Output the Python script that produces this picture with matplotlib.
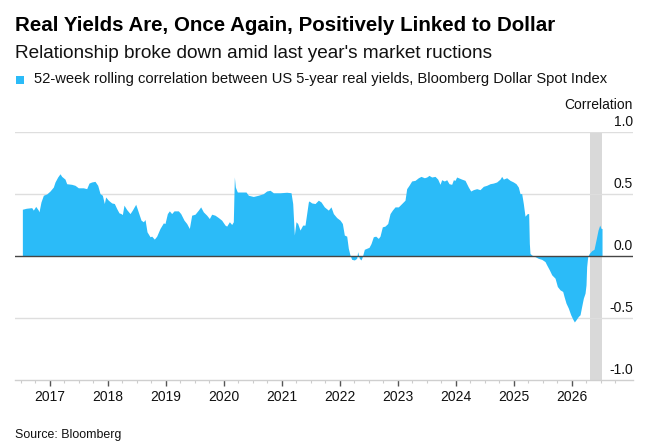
import matplotlib
matplotlib.use('Agg')
import matplotlib.pyplot as plt
from matplotlib.patches import Rectangle
from matplotlib.ticker import FixedLocator
import matplotlib.transforms as mtransforms

# ---------------- data ----------------
years = [
    2016.532, 2016.600, 2016.693, 2016.721, 2016.762, 2016.807, 2016.819, 2016.853, 2016.894, 2016.951,
    2017.009, 2017.066, 2017.095, 2017.141, 2017.181, 2017.210, 2017.267, 2017.296, 2017.382, 2017.440,
    2017.497, 2017.583, 2017.641, 2017.681, 2017.727, 2017.784, 2017.831, 2017.871, 2017.911, 2017.945,
    2017.968, 2018.014, 2018.072, 2018.118, 2018.158, 2018.198, 2018.233, 2018.256, 2018.284, 2018.330,
    2018.388, 2018.428, 2018.486, 2018.520, 2018.578, 2018.618, 2018.647, 2018.681, 2018.733, 2018.762,
    2018.807, 2018.848, 2018.905, 2018.963, 2018.991, 2019.032, 2019.066, 2019.106, 2019.147, 2019.221,
    2019.262, 2019.319, 2019.365, 2019.411, 2019.451, 2019.509, 2019.566, 2019.606, 2019.652, 2019.710,
    2019.756, 2019.796, 2019.853, 2019.911, 2019.968, 2020.026, 2020.055, 2020.101, 2020.141, 2020.169,
    2020.187, 2020.204, 2020.238, 2020.313, 2020.388, 2020.428, 2020.514, 2020.601, 2020.687, 2020.744,
    2020.802, 2020.859, 2020.974, 2021.089, 2021.164, 2021.193, 2021.221, 2021.250, 2021.279, 2021.319,
    2021.365, 2021.405, 2021.434, 2021.463, 2021.474, 2021.520, 2021.578, 2021.635, 2021.681, 2021.738,
    2021.807, 2021.853, 2021.894, 2021.951, 2022.009, 2022.049, 2022.083, 2022.124, 2022.152, 2022.181,
    2022.210, 2022.256, 2022.296, 2022.313, 2022.342, 2022.371, 2022.394, 2022.428, 2022.468, 2022.509,
    2022.543, 2022.583, 2022.624, 2022.669, 2022.698, 2022.738, 2022.784, 2022.831, 2022.871, 2022.911,
    2022.957, 2023.014, 2023.072, 2023.129, 2023.158, 2023.198, 2023.244, 2023.302, 2023.359, 2023.405,
    2023.463, 2023.503, 2023.543, 2023.589, 2023.647, 2023.693, 2023.733, 2023.761, 2023.807, 2023.848,
    2023.888, 2023.934, 2023.963, 2023.991, 2024.020, 2024.106, 2024.164, 2024.221, 2024.262, 2024.307,
    2024.365, 2024.422, 2024.480, 2024.537, 2024.595, 2024.652, 2024.710, 2024.767, 2024.796, 2024.825,
    2024.882, 2024.940, 2024.997, 2025.043, 2025.083, 2025.112, 2025.141, 2025.169, 2025.198, 2025.238,
    2025.261, 2025.273, 2025.284, 2025.313, 2025.371, 2025.428, 2025.486, 2025.543, 2025.572, 2025.618,
    2025.659, 2025.716, 2025.756, 2025.802, 2025.848, 2025.871, 2025.905, 2025.945, 2025.986, 2026.020,
    2026.049, 2026.078, 2026.118, 2026.147, 2026.175, 2026.204, 2026.233, 2026.250, 2026.261, 2026.279,
    2026.307, 2026.348, 2026.388, 2026.428, 2026.457, 2026.486, 2026.509, 2026.526,
]
corr = [
    0.377, 0.385, 0.390, 0.370, 0.400, 0.370, 0.356, 0.436, 0.490, 0.500,
    0.524, 0.556, 0.597, 0.637, 0.663, 0.642, 0.620, 0.583, 0.578, 0.570,
    0.550, 0.550, 0.543, 0.588, 0.597, 0.602, 0.570, 0.503, 0.490, 0.423,
    0.476, 0.450, 0.428, 0.423, 0.383, 0.348, 0.342, 0.334, 0.410, 0.375,
    0.342, 0.370, 0.417, 0.370, 0.289, 0.276, 0.294, 0.195, 0.155, 0.160,
    0.136, 0.160, 0.222, 0.267, 0.262, 0.342, 0.364, 0.342, 0.364, 0.364,
    0.342, 0.289, 0.262, 0.222, 0.329, 0.337, 0.370, 0.396, 0.356, 0.329,
    0.302, 0.337, 0.329, 0.310, 0.289, 0.249, 0.241, 0.276, 0.254, 0.276,
    0.637, 0.556, 0.516, 0.516, 0.516, 0.490, 0.480, 0.490, 0.503, 0.524,
    0.530, 0.510, 0.510, 0.514, 0.510, 0.423, 0.169, 0.276, 0.262, 0.209,
    0.249, 0.249, 0.342, 0.436, 0.444, 0.428, 0.423, 0.450, 0.436, 0.396,
    0.370, 0.396, 0.342, 0.310, 0.289, 0.262, 0.169, 0.160, 0.062, 0.008,
    -0.027, -0.032, -0.019, 0.035, -0.019, -0.032, -0.005, 0.054, 0.062, 0.070,
    0.100, 0.155, 0.160, 0.142, 0.160, 0.235, 0.241, 0.262, 0.342, 0.370,
    0.396, 0.396, 0.423, 0.450, 0.543, 0.570, 0.605, 0.610, 0.631, 0.642,
    0.631, 0.637, 0.650, 0.637, 0.642, 0.620, 0.578, 0.615, 0.605, 0.615,
    0.583, 0.578, 0.615, 0.610, 0.637, 0.620, 0.610, 0.556, 0.524, 0.535,
    0.543, 0.535, 0.562, 0.570, 0.583, 0.588, 0.597, 0.620, 0.642, 0.620,
    0.631, 0.610, 0.597, 0.583, 0.556, 0.503, 0.503, 0.423, 0.321, 0.342,
    0.342, 0.100, 0.021, 0.008, -0.005, -0.019, -0.027, -0.045, -0.072, -0.112,
    -0.152, -0.179, -0.246, -0.273, -0.286, -0.326, -0.380, -0.420, -0.474, -0.508,
    -0.532, -0.514, -0.487, -0.474, -0.407, -0.340, -0.300, -0.233, -0.086, -0.005,
    0.021, 0.043, 0.054, 0.142, 0.209, 0.249, 0.222, 0.222,
]
band_start, band_end = 2026.32, 2026.53
tick_years = list(range(2017, 2027))
tick_labels = [str(y) for y in tick_years]
ytick_vals = [1.0, 0.5, 0.0, -0.5, -1.0]
ytick_labels = ['1.0', '0.5', '0.0', '-0.5', '-1.0']

title = "Real Yields Are, Once Again, Positively Linked to Dollar"
subtitle = "Relationship broke down amid last year's market ructions"
legend_label = "52-week rolling correlation between US 5-year real yields, Bloomberg Dollar Spot Index"
source = "Source: Bloomberg"
axis_title = "Correlation"

# ---------------- style ----------------
plt.rcParams['font.family'] = ['Liberation Sans', 'DejaVu Sans']
BLUE = '#2BBBF8'
W, H = 659, 445
fig = plt.figure(figsize=(W / 100, H / 100), dpi=100)
fig.patch.set_facecolor('white')

ax = fig.add_axes([15 / W, 1 - 380 / H, (633 - 15) / W, (380 - 132) / H])
ax.set_xlim(2016.405, 2027.06)
ax.set_ylim(-1, 1)
ax.set_facecolor('white')

ax.axvspan(band_start, band_end, color='#d9d9d9', lw=0, zorder=0)
for v in ytick_vals:
    if v not in (0.0, -1.0):
        ax.axhline(v, color='#dedede', lw=1.0, zorder=1)
ax.fill_between(years, corr, 0, color=BLUE, lw=0, zorder=2, interpolate=True)
ax.axhline(0, color='#454545', lw=1.0, zorder=3)

for s in ['top', 'left', 'right']:
    ax.spines[s].set_visible(False)
ax.spines['bottom'].set_color('#cfcfcf')
ax.spines['bottom'].set_linewidth(1.0)

ax.xaxis.set_major_locator(FixedLocator(tick_years))
ax.set_xticks(tick_years)
ax.set_xticklabels(tick_labels)
minor = [y + q / 4 for y in range(2016, 2028) for q in (1, 2, 3)]
ax.xaxis.set_minor_locator(FixedLocator(minor))
ax.tick_params(axis='x', which='major', length=4.5, width=1.0, color='#555555',
               pad=2.5, labelsize=10, labelcolor='#111111')
ax.tick_params(axis='x', which='minor', length=2.5, width=0.8, color='#cccccc')
ax.set_yticks([])

trans = mtransforms.blended_transform_factory(ax.transAxes, ax.transData)
for v, lab in zip(ytick_vals, ytick_labels):
    ax.annotate(lab, xy=(1.0, v), xycoords=trans, xytext=(0, 4.5), textcoords='offset points',
                ha='right', va='baseline', fontsize=10, color='#111111', zorder=5)
ax.annotate(axis_title, xy=(1.0, 1.0), xycoords=trans, xytext=(0, 16.5), textcoords='offset points',
            ha='right', va='baseline', fontsize=10, color='#111111')

# ---------------- header / footer texts ----------------
def fy(y):
    return 1 - y / H

t_title = fig.text(15 / W, fy(31), title, fontsize=13, fontweight='bold', ha='left', va='baseline', color='#000000')
t_sub = fig.text(15 / W, fy(58.3), subtitle, fontsize=12, ha='left', va='baseline', color='#111111')
t_leg = fig.text(34 / W, fy(83.3), legend_label, fontsize=10, ha='left', va='baseline', color='#111111')
t_src = fig.text(15 / W, fy(438), source, fontsize=9, ha='left', va='baseline', color='#111111')
fig.patches.append(Rectangle((16 / W, fy(83.5)), 8 / W, 7.5 / H, transform=fig.transFigure,
                             facecolor=BLUE, edgecolor='none'))

def fit(t, width_px):
    fig.canvas.draw()
    r = fig.canvas.get_renderer()
    w = t.get_window_extent(r).width
    t.set_fontsize(t.get_fontsize() * width_px / w)

fit(t_title, 553 - 15)
fit(t_sub, 497 - 15)
fit(t_leg, 605 - 34)
fit(t_src, 121 - 15)

fig.savefig('out.png', dpi=100, facecolor='white')
